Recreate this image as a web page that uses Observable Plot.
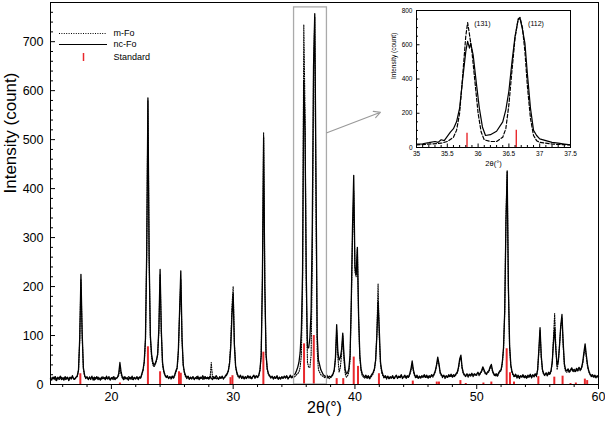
<!DOCTYPE html>
<html><head><meta charset="utf-8">
<script src="https://cdn.jsdelivr.net/npm/d3@7"></script>
<script src="https://cdn.jsdelivr.net/npm/@observablehq/plot@0.6"></script>
<style>
body{margin:0;background:#fff;}
#wrap{position:relative;width:605px;height:422px;font-family:"Liberation Sans",Arial,sans-serif;}
#wrap svg{position:absolute;overflow:visible;}
</style></head><body><div id="wrap"></div>
<script>
// ---- main pattern: 2θ grid 15.0 .. 60.0, step 0.1 ----
const thetaStart = 15.0;
const thetaStep = 0.1;
const ncFo = [
12,9,15,11,16,8,14,12,17,10,
13,9,16,11,14,8,15,12,18,11,
12,15,18,30,95,225,105,34,19,13,
16,10,14,12,17,9,15,11,16,10,
13,9,15,12,14,10,17,11,15,9,
14,11,16,10,13,15,22,45,25,15,
10,16,12,14,9,15,11,17,10,14,
12,16,10,15,13,22,30,48,95,270,
585,260,100,62,46,40,43,50,62,115,
235,110,45,28,20,15,18,12,16,13,
17,14,20,28,35,70,150,232,95,40,
25,18,14,17,11,15,12,16,10,14,
12,17,10,15,13,18,11,16,12,15,
11,17,13,10,16,12,18,14,11,16,
13,17,12,15,19,22,28,42,75,140,
185,80,38,25,18,15,19,13,17,12,
16,13,18,14,17,12,16,19,14,18,
15,19,30,60,210,505,200,62,32,22,
18,14,17,12,16,13,18,11,15,12,
16,13,17,14,18,12,15,19,14,17,
20,22,28,35,45,65,110,230,620,520,
230,75,75,95,150,330,650,757,430,100,
50,40,30,25,20,18,15,19,14,17,
15,18,22,30,55,122,65,50,55,70,
105,60,30,22,24,32,60,170,320,427,
240,225,280,140,60,32,22,18,15,19,
14,18,13,17,21,25,32,50,100,168,
110,45,28,20,15,18,13,17,12,16,
14,18,12,16,19,13,17,15,20,14,
16,19,14,18,15,22,32,48,30,20,
15,19,13,17,14,18,16,20,15,19,
14,18,16,20,17,22,28,40,56,42,
25,20,16,19,14,18,15,20,17,21,
16,20,18,22,25,35,52,60,35,24,
20,18,22,17,21,19,23,18,22,20,
21,25,20,24,28,36,30,24,22,26,
28,36,41,28,22,19,22,18,24,28,
30,45,75,150,330,436,200,80,40,26,
20,17,21,15,19,14,18,16,20,15,
18,14,19,16,21,15,20,17,22,18,
30,70,116,58,30,22,20,24,19,25,
22,28,45,85,115,70,40,48,80,120,
143,85,42,30,28,32,26,30,34,28,
31,27,33,29,35,30,34,45,65,83,
60,40,28,22,18,20,16,19,15,18,
16];
const mFo = [
10,14,11,16,9,13,15,10,12,16,
11,15,10,13,16,9,14,11,15,12,
10,14,16,28,90,215,100,32,17,12,
14,11,16,10,13,15,9,14,12,16,
11,14,10,16,12,15,11,13,16,10,
12,15,10,14,12,14,18,35,20,13,
15,11,14,10,16,12,15,10,13,15,
11,14,12,16,13,20,28,45,90,265,
580,255,95,55,40,36,40,48,60,110,
225,105,40,25,18,14,16,13,15,11,
15,12,18,25,32,65,145,215,90,38,
22,15,12,16,10,14,11,15,12,13,
16,11,14,12,15,10,16,12,14,11,
15,12,45,16,12,15,11,14,10,15,
12,15,11,14,17,20,27,45,85,160,
200,85,36,22,16,13,17,12,15,11,
14,12,16,13,15,11,14,17,12,16,
14,17,28,58,215,515,205,60,30,20,
16,13,15,11,14,12,16,10,13,11,
14,12,15,13,16,11,14,17,13,15,
15,17,20,22,25,35,60,200,735,560,
200,45,35,35,60,250,640,750,360,70,
30,25,20,18,16,14,17,13,15,12,
14,16,20,28,50,110,55,25,35,60,
100,50,22,15,18,25,50,160,300,395,
230,220,277,135,55,28,18,15,13,16,
12,16,11,15,18,22,30,50,105,205,
95,40,24,17,13,15,11,16,12,14,
12,16,11,14,17,12,15,13,18,12,
14,17,12,16,14,20,28,42,26,17,
13,17,12,15,13,16,14,18,13,17,
12,16,14,18,15,20,26,38,50,40,
22,18,14,17,12,16,14,18,15,19,
14,18,16,20,23,32,48,55,32,22,
18,16,20,15,19,17,21,16,20,18,
19,23,18,22,26,33,27,22,20,24,
26,33,38,26,20,17,20,16,22,26,
28,42,72,150,340,435,195,75,38,24,
18,15,19,13,17,12,16,14,18,13,
16,12,17,14,19,13,18,15,20,16,
28,65,110,55,28,20,18,22,17,23,
20,26,45,95,145,75,30,45,80,118,
135,80,38,26,25,30,24,28,32,26,
29,25,31,27,33,28,32,42,60,76,
55,36,26,20,16,18,14,17,13,16,
14];
// ---- standard (JCPDS forsterite) sticks ----
const stdPos = [17.45,20.7,23.0,24.0,25.55,25.7,29.78,29.94,32.48,35.82,36.62,38.5,39.04,39.9,40.25,41.97,44.75,46.72,46.9,48.66,49.1,50.55,51.2,52.46,52.73,53.06,55.06,56.37,57.05,57.7,58.14,58.88,59.07];
const stdInt = [22,3,77,26,26,23,14,18,66,83,100,12,12,56,37,22,7,5,5,8,2,3,5,73,24,5,16,15,17,2,3,11,8];
// ---- axis ticks ----
const xMajor = [20,30,40,50,60];
const xMinor = [16,18,22,24,26,28,32,34,36,38,42,44,46,48,52,54,56,58];
const yMajor = [0,100,200,300,400,500,600,700];
const yMinor = [20,40,60,80,120,140,160,180,220,240,260,280,320,340,360,380,420,440,460,480,520,540,560,580,620,640,660,680,720,740,760];
// ---- zoom box and arrow (data units) ----
const zoomBox = [{x1:35.0, x2:37.7, y1:0, y2:770}];
const zoomArrow = [{x1:37.7, y1:514, x2:42.1, y2:556}];
// ---- legend ----
const legendLabels = ["m-Fo","nc-Fo","Standard"];
// ---- inset data ----
const insetNcX = [35.0,35.1,35.2,35.3,35.35,35.4,35.45,35.5,35.55,35.6,35.65,35.7,35.75,35.8,35.83,35.86,35.88,35.92,35.97,36.02,36.07,36.12,36.2,36.3,36.4,36.45,36.5,36.55,36.6,36.65,36.68,36.72,36.76,36.8,36.85,36.9,36.95,37.0,37.1,37.2,37.3,37.4,37.5];
const insetNcY = [20,22,28,35,30,45,40,65,90,110,150,230,400,560,620,580,610,540,380,230,120,70,75,95,150,220,330,500,650,745,755,690,610,430,230,100,70,50,40,30,25,20,15];
const insetMX = [35.0,35.2,35.4,35.5,35.6,35.65,35.7,35.75,35.8,35.83,35.86,35.9,35.95,36.0,36.05,36.1,36.2,36.3,36.4,36.45,36.5,36.55,36.6,36.65,36.68,36.72,36.76,36.8,36.85,36.9,36.95,37.0,37.2,37.5];
const insetMY = [15,20,25,35,60,100,200,420,650,730,660,560,380,200,90,45,35,35,60,110,250,450,640,750,760,700,560,360,170,70,40,30,20,15];
const insetStdPos = [35.82,36.62];
const insetStdInt = [83,101];
const hklLabels = ["(131)","(112)"];
const hklX = [36.07,36.94];
const hklY = [720,720];
const insetXTicks = [35,35.5,36,36.5,37,37.5];
const insetXMinor = [35.1,35.2,35.3,35.4,35.6,35.7,35.8,35.9,36.1,36.2,36.3,36.4,36.6,36.7,36.8,36.9,37.1,37.2,37.3,37.4];
const insetYTicks = [0,200,400,600,800];
const insetYMinor = [50,100,150,250,300,350,450,500,550,650,700,750];

const RED = "#e8282c";
const FONT = "Liberation Sans, Arial, sans-serif";

// main geometry
const W = 605, H = 422, ML = 50, MR = 7, MT = 2, MB = 38;
const xDom = [15,60], yDom = [0,780];
const invX = px => xDom[0] + (px - ML) / (W - ML - MR) * (xDom[1] - xDom[0]);
const invY = py => yDom[0] + (H - MB - py) / (H - MB - MT) * (yDom[1] - yDom[0]);

const grid = i => +(thetaStart + i * thetaStep).toFixed(2);
const ncData = ncFo.map((y, i) => ({x: grid(i), y}));
const mData = mFo.map((y, i) => ({x: grid(i), y}));
const stdData = stdPos.map((x, i) => ({x, h: stdInt[i]}));

const main = Plot.plot({
  width: W, height: H, marginLeft: ML, marginRight: MR, marginTop: MT, marginBottom: MB,
  x: {domain: xDom}, y: {domain: yDom},
  style: {fontFamily: FONT, fontSize: "12.5px", background: "transparent", color: "#000"},
  marks: [
    Plot.ruleX(stdData, {x: "x", y1: 0, y2: "h", stroke: RED, strokeWidth: 2}),
    Plot.line(ncData, {x: "x", y: "y", stroke: "#000", strokeWidth: 1.3}),
    Plot.line(mData, {x: "x", y: "y", stroke: "#000", strokeWidth: 1.1, strokeDasharray: "1,1.4"}),
    Plot.rect(zoomBox, {x1: "x1", x2: "x2", y1: "y1", y2: "y2", fill: "none", stroke: "#aaa", strokeWidth: 1.3}),
    Plot.arrow(zoomArrow, {x1: "x1", y1: "y1", x2: "x2", y2: "y2", stroke: "#999", strokeWidth: 1.1, headLength: 10, headAngle: 55}),
    Plot.frame({stroke: "#000", strokeWidth: 1}),
    Plot.axisX({ticks: xMajor, tickSize: 5, tickPadding: 3, label: null, tickFormat: d => d}),
    Plot.axisX({ticks: xMinor, tickSize: 3, label: null, tickFormat: () => ""}),
    Plot.axisY({ticks: yMajor, tickSize: 0, tickPadding: 7, label: null, tickFormat: d => d}),
    Plot.ruleY(yMajor, {x1: xDom[0], x2: invX(ML + 5), stroke: "#000"}),
    Plot.ruleY(yMinor, {x1: xDom[0], x2: invX(ML + 3), stroke: "#000"}),
    Plot.text(["2θ(°)"], {frameAnchor: "bottom", dy: 28, fontSize: 16}),
    Plot.text(["Intensity (count)"], {frameAnchor: "left", dx: -40, rotate: -90, fontSize: 17}),
    // legend
    Plot.ruleY([invY(33)], {x1: invX(59), x2: invX(106), stroke: "#000", strokeDasharray: "1,1.4"}),
    Plot.ruleY([invY(44)], {x1: invX(59), x2: invX(107), stroke: "#000", strokeWidth: 1.1}),
    Plot.ruleX([invX(83)], {y1: invY(61), y2: invY(53), stroke: RED, strokeWidth: 1.5}),
    Plot.text(legendLabels, {x: invX(113), y: [invY(33), invY(44), invY(57)], textAnchor: "start", fontSize: 9})
  ]
});

// inset geometry
const IW = 200, IH = 175, IL = 385;
const iML = 31, iMR = 15, iMT = 10, iMB = 28;
const ixDom = [35, 37.5], iyDom = [0, 800];
const ipx = (ixDom[1] - ixDom[0]) / (IW - iML - iMR);
const ipy = (iyDom[1] - iyDom[0]) / (IH - iMT - iMB);
const insetNc = insetNcX.map((x, i) => ({x, y: insetNcY[i]}));
const insetM = insetMX.map((x, i) => ({x, y: insetMY[i]}));
const insetStd = insetStdPos.map((x, i) => ({x, h: insetStdInt[i]}));

const inset = Plot.plot({
  width: IW, height: IH, marginLeft: iML, marginRight: iMR, marginTop: iMT, marginBottom: iMB,
  x: {domain: ixDom}, y: {domain: iyDom},
  style: {fontFamily: FONT, fontSize: "6.5px", background: "transparent", color: "#000"},
  marks: [
    Plot.ruleX(insetStd, {x: "x", y1: 0, y2: "h", stroke: RED, strokeWidth: 1.4}),
    Plot.line(insetM, {x: "x", y: "y", stroke: "#000", strokeWidth: 1.2, strokeDasharray: "3.5,2"}),
    Plot.line(insetNc, {x: "x", y: "y", stroke: "#000", strokeWidth: 1.2}),
    Plot.text(hklLabels, {x: hklX, y: hklY, fontSize: 7}),
    Plot.frame({stroke: "#000", strokeWidth: 1}),
    Plot.axisX({ticks: insetXTicks, tickSize: 0, tickPadding: 4, label: null, tickFormat: d => d}),
    Plot.axisY({ticks: insetYTicks, tickSize: 0, tickPadding: 4, label: null, tickFormat: d => d}),
    Plot.ruleX(insetXTicks, {y1: 0, y2: 3.5 * ipy, stroke: "#000"}),
    Plot.ruleX(insetXMinor, {y1: 0, y2: 2 * ipy, stroke: "#000"}),
    Plot.ruleY(insetYTicks, {x1: ixDom[0], x2: ixDom[0] + 3.5 * ipx, stroke: "#000"}),
    Plot.ruleY(insetYMinor, {x1: ixDom[0], x2: ixDom[0] + 2 * ipx, stroke: "#000"}),
    Plot.text(["2θ(°)"], {frameAnchor: "bottom", dy: 18, fontSize: 7.5}),
    Plot.text(["Intensity (count)"], {frameAnchor: "left", dx: -23, rotate: -90, fontSize: 6.5})
  ]
});

const wrap = document.getElementById("wrap");
main.style.left = "0px"; main.style.top = "0px";
inset.style.left = IL + "px"; inset.style.top = "0px";
wrap.appendChild(main);
wrap.appendChild(inset);
</script>
</body></html>
